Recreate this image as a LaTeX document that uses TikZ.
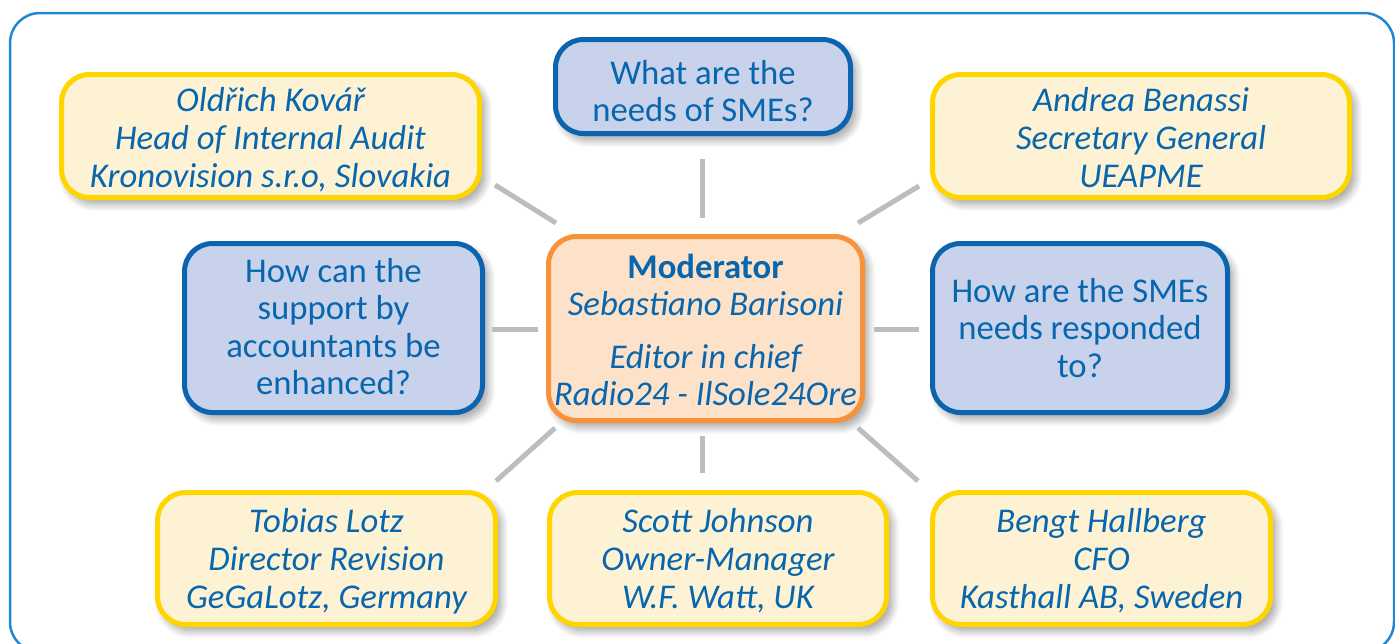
\documentclass[tikz,border=0pt]{standalone}
\usepackage{fontspec}
\setmainfont{Carlito}
\usetikzlibrary{shadows.blur}
\definecolor{ybord}{RGB}{255,213,0}
\definecolor{yfill}{RGB}{253,243,212}
\definecolor{bbord}{RGB}{13,100,174}
\definecolor{bfill}{RGB}{200,210,235}
\definecolor{obord}{RGB}{247,146,58}
\definecolor{ofill}{RGB}{253,226,201}
\definecolor{txt}{RGB}{8,102,174}
\definecolor{conn}{RGB}{188,189,192}
\definecolor{frame}{RGB}{30,136,210}
\newcommand\lowtext[2]{\raisebox{-#1}[\height][\depth]{\begin{tabular}{@{}c@{}}#2\end{tabular}}}
\tikzset{
  box/.style={rounded corners=28pt, line width=5pt, align=center, inner sep=0pt,
    text=txt, font=\fontsize{34.7}{37.5}\selectfont,
    blur shadow={shadow xshift=5pt, shadow yshift=-6pt, shadow blur steps=12, shadow opacity=40, shadow blur radius=8pt}},
  ybox/.style={box, draw=ybord, fill=yfill, font=\fontsize{34.7}{37.8}\selectfont\itshape},
  bbox/.style={box, draw=bbord, fill=bfill},
  obox/.style={box, draw=obord, fill=ofill},
  link/.style={draw=conn, line width=5pt},
  outer/.style={draw=frame, line width=2.5pt, rounded corners=30pt}
}
\begin{document}
\begin{tikzpicture}[x=1pt,y=-1pt]
\useasboundingbox (0,0) rectangle (1395,643);
\draw[outer] (10,13) rectangle (1394,652);

\node[ybox, minimum width=418pt, minimum height=123pt] (tl) at (270.5,136) {\lowtext{6pt}{Oldřich Kovář\\Head of Internal Audit\\Kronovision s.r.o, Slovakia}};
\node[bbox, minimum width=295pt, minimum height=94pt] (tc) at (703,86.5) {\lowtext{9pt}{What are the\\needs of SMEs?}};
\node[ybox, minimum width=417pt, minimum height=123pt] (tr) at (1141,136) {\lowtext{6pt}{Andrea Benassi\\Secretary General\\UEAPME}};
\node[bbox, minimum width=298pt, minimum height=169pt] (ml) at (333.5,328) {\lowtext{3pt}{How can the\\support by\\accountants be\\enhanced?}};
\node[obox, minimum width=314pt, minimum height=184pt] (c) at (705.5,328.5) {\lowtext{6pt}{{\bfseries\upshape Moderator}\\{\itshape Sebastiano Barisoni}\\[15pt]{\itshape Editor in chief}\\{\itshape Radio24 - IlSole24Ore}}};
\node[bbox, minimum width=295pt, minimum height=169pt] (mr) at (1080,328) {\lowtext{4pt}{How are the SMEs\\needs responded\\to?}};
\node[ybox, minimum width=338pt, minimum height=132pt] (bl) at (326.5,558.5) {\lowtext{4.5pt}{Tobias Lotz\\Director Revision\\GeGaLotz, Germany}};
\node[ybox, minimum width=337pt, minimum height=132pt] (bc) at (718,558.5) {\lowtext{4.5pt}{Scott Johnson\\Owner-Manager\\W.F. Watt, UK}};
\node[ybox, minimum width=338pt, minimum height=132pt] (br) at (1101.5,558.5) {\lowtext{4.5pt}{Bengt Hallberg\\CFO\\Kasthall AB, Sweden}};

\coordinate (tl1) at (495,185); \coordinate (tl2) at (556,223);
\coordinate (tc1) at (702,159); \coordinate (tc2) at (702,218);
\coordinate (tr1) at (919,186); \coordinate (tr2) at (858,223);
\coordinate (ml1) at (492,329); \coordinate (ml2) at (538,329);
\coordinate (mr1) at (919,329); \coordinate (mr2) at (874,329);
\coordinate (bl1) at (496,481); \coordinate (bl2) at (555,428);
\coordinate (bc1) at (702,473); \coordinate (bc2) at (702,436);
\coordinate (br1) at (918,481); \coordinate (br2) at (858,428);
\draw[link] (tl1) -- (tl2);
\draw[link] (tc1) -- (tc2);
\draw[link] (tr1) -- (tr2);
\draw[link] (ml1) -- (ml2);
\draw[link] (mr1) -- (mr2);
\draw[link] (bl1) -- (bl2);
\draw[link] (bc1) -- (bc2);
\draw[link] (br1) -- (br2);
\end{tikzpicture}
\end{document}
